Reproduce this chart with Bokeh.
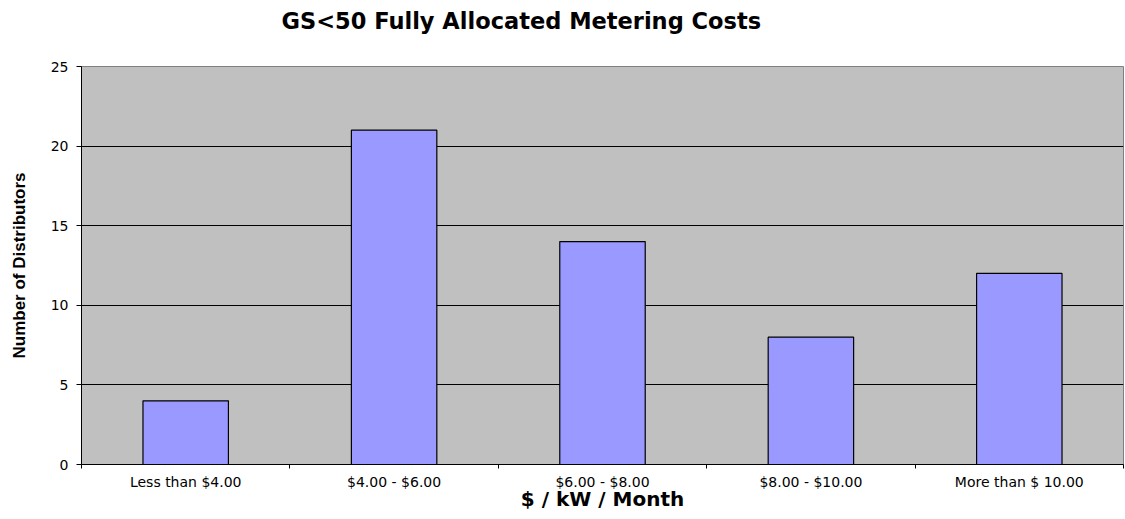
from bokeh.plotting import figure
from bokeh.models import Range1d, FixedTicker, CustomJSTickFormatter, ColumnDataSource, Title
from bokeh.embed import file_html
from bokeh.resources import INLINE

title_text = "GS<50 Fully Allocated Metering Costs"
categories = ["Less than $4.00", "$4.00 - $6.00", "$6.00 - $8.00", "$8.00 - $10.00", "More than $ 10.00"]
counts = [4, 21, 14, 8, 12]
y_ticks = [0, 5, 10, 15, 20, 25]

positions = [i + 0.5 for i in range(len(categories))]
source = ColumnDataSource(dict(x=positions, top=counts))

p = figure(width=1125, height=519, output_backend="svg", toolbar_location=None,
           x_range=Range1d(0, len(categories)), y_range=Range1d(0, 25),
           min_border_left=81, min_border_right=2, min_border_top=66, min_border_bottom=55)

p.title.text = title_text
p.title.text_font = "DejaVu Sans"
p.title.text_font_size = "22.5px"
p.title.text_font_style = "bold"
p.title.text_color = "black"
p.title.align = "left"
p.title.offset = 200
p.title.vertical_align = "top"
p.title.standoff = 14

# empty spacer between title and plot area
spacer = Title(text=" ", text_font_size="1px", standoff=21)
p.add_layout(spacer, "above")

p.background_fill_color = "#C0C0C0"
p.border_fill_color = "white"
p.outline_line_color = "#808080"

p.vbar(x="x", top="top", width=0.41, bottom=0, source=source,
       fill_color="#9999FF", line_color="black", line_width=1.2)

# x axis
p.xaxis.ticker = FixedTicker(ticks=positions, minor_ticks=list(range(len(categories) + 1)))
p.xaxis.formatter = CustomJSTickFormatter(args=dict(labels=categories),
                                          code="return labels[Math.round(tick - 0.5)];")
p.xaxis.major_tick_line_color = None
p.xaxis.major_tick_out = 5
p.xaxis.major_tick_in = 0
p.xaxis.minor_tick_out = 4
p.xaxis.minor_tick_in = 0
p.xaxis.minor_tick_line_color = "black"
p.xaxis.axis_line_color = "black"
p.xaxis.major_label_text_font = "DejaVu Sans"
p.xaxis.major_label_text_font_size = "14px"
p.xaxis.major_label_text_color = "black"
p.xaxis.major_label_standoff = 4
p.xaxis.axis_label = "$ / kW / Month"
p.xaxis.axis_label_text_font = "DejaVu Sans"
p.xaxis.axis_label_text_font_size = "20px"
p.xaxis.axis_label_text_font_style = "bold"
p.xaxis.axis_label_text_color = "black"
p.xaxis.axis_label_standoff = -6

# y axis
p.yaxis.ticker = FixedTicker(ticks=y_ticks)
p.yaxis.minor_tick_line_color = None
p.yaxis.major_tick_out = 5
p.yaxis.major_tick_in = 0
p.yaxis.major_tick_line_color = "black"
p.yaxis.axis_line_color = "black"
p.yaxis.major_label_text_font = "DejaVu Sans"
p.yaxis.major_label_text_font_size = "14px"
p.yaxis.major_label_text_color = "black"
p.yaxis.major_label_standoff = 8
p.yaxis.axis_label = "Number of Distributors"
p.yaxis.axis_label_text_font = "Liberation Sans"
p.yaxis.axis_label_text_font_size = "17px"
p.yaxis.axis_label_text_font_style = "bold"
p.yaxis.axis_label_text_color = "black"
p.yaxis.axis_label_standoff = 19

p.xgrid.grid_line_color = None
p.ygrid.ticker = FixedTicker(ticks=[5, 10, 15, 20])
p.ygrid.grid_line_color = "black"
p.ygrid.grid_line_width = 1

open("out.html", "w").write(file_html(p, INLINE))
